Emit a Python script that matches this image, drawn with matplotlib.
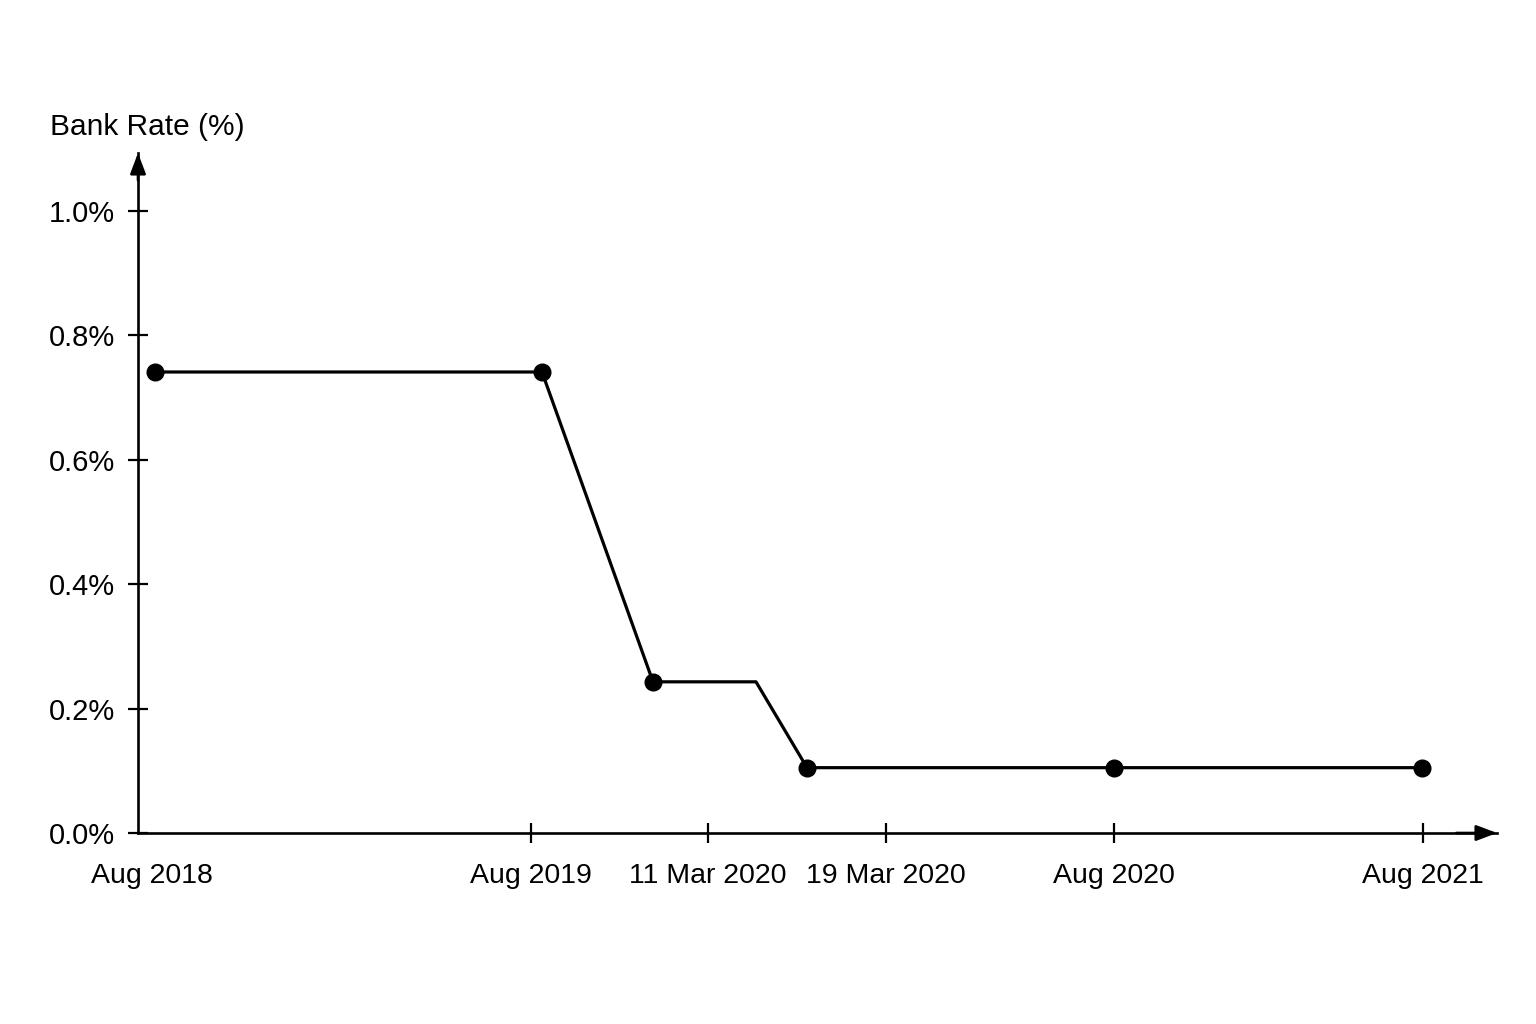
import matplotlib
matplotlib.use("Agg")
import matplotlib.pyplot as plt

plt.rcParams['font.family'] = ['Liberation Sans', 'DejaVu Sans']

# schematic positions along the time axis (not to scale, like the original)
point_pos = [17, 404, 515, 618, 669, 976, 1284]
bank_rate = [0.741, 0.741, 0.243, 0.243, 0.105, 0.105, 0.105]
has_marker = [True, True, True, False, True, True, True]

tick_pos = [14, 393, 570, 748, 976, 1285]
tick_labels = ['Aug 2018', 'Aug 2019', '11 Mar 2020', '19 Mar 2020', 'Aug 2020', 'Aug 2021']

y_ticks = [0.0, 0.2, 0.4, 0.6, 0.8, 1.0]
y_labels = ['0.0%', '0.2%', '0.4%', '0.6%', '0.8%', '1.0%']

W, H = 1536, 1024
fig = plt.figure(figsize=(W / 100, H / 100), dpi=100)
ax = fig.add_axes([138 / W, 1 - 833 / H, (1497 - 138) / W, (833 - 153) / H])

ax.plot(point_pos, bank_rate, color='black', lw=2.3, zorder=3, clip_on=False)
mx = [p for p, m in zip(point_pos, has_marker) if m]
my = [v for v, m in zip(bank_rate, has_marker) if m]
ax.plot(mx, my, 'o', color='black', markersize=12, zorder=4, clip_on=False)

ax.set_xlim(0, 1359)
ax.set_ylim(0, 1.093)

for s in ['top', 'right']:
    ax.spines[s].set_visible(False)
for s in ['left', 'bottom']:
    ax.spines[s].set_linewidth(1.9)

ax.set_xticks(tick_pos)
ax.set_xticklabels(tick_labels, fontsize=20.5)
ax.set_yticks(y_ticks)
ax.set_yticklabels(y_labels, fontsize=21)
ax.tick_params(axis='both', direction='inout', length=15, width=1.6)
ax.tick_params(axis='x', pad=14)
ax.tick_params(axis='y', pad=9)
ax.xaxis.get_major_ticks()[0].tick1line.set_visible(False)

# arrow heads on the axes
arrow = dict(arrowstyle='-|>,head_length=0.45,head_width=0.17', color='black',
             lw=1.9, mutation_scale=28, shrinkA=0, shrinkB=0)
ax.annotate('', xy=(1, 0), xytext=(0.97, 0), xycoords='axes fraction', arrowprops=arrow,
            annotation_clip=False)
ax.annotate('', xy=(0, 1), xytext=(0, 0.96), xycoords='axes fraction', arrowprops=arrow,
            annotation_clip=False)

fig.text(50 / W, 1 - 127 / H, 'Bank Rate (%)', fontsize=21.5, ha='left', va='center')

fig.savefig('out.png', dpi=100, facecolor='white')
